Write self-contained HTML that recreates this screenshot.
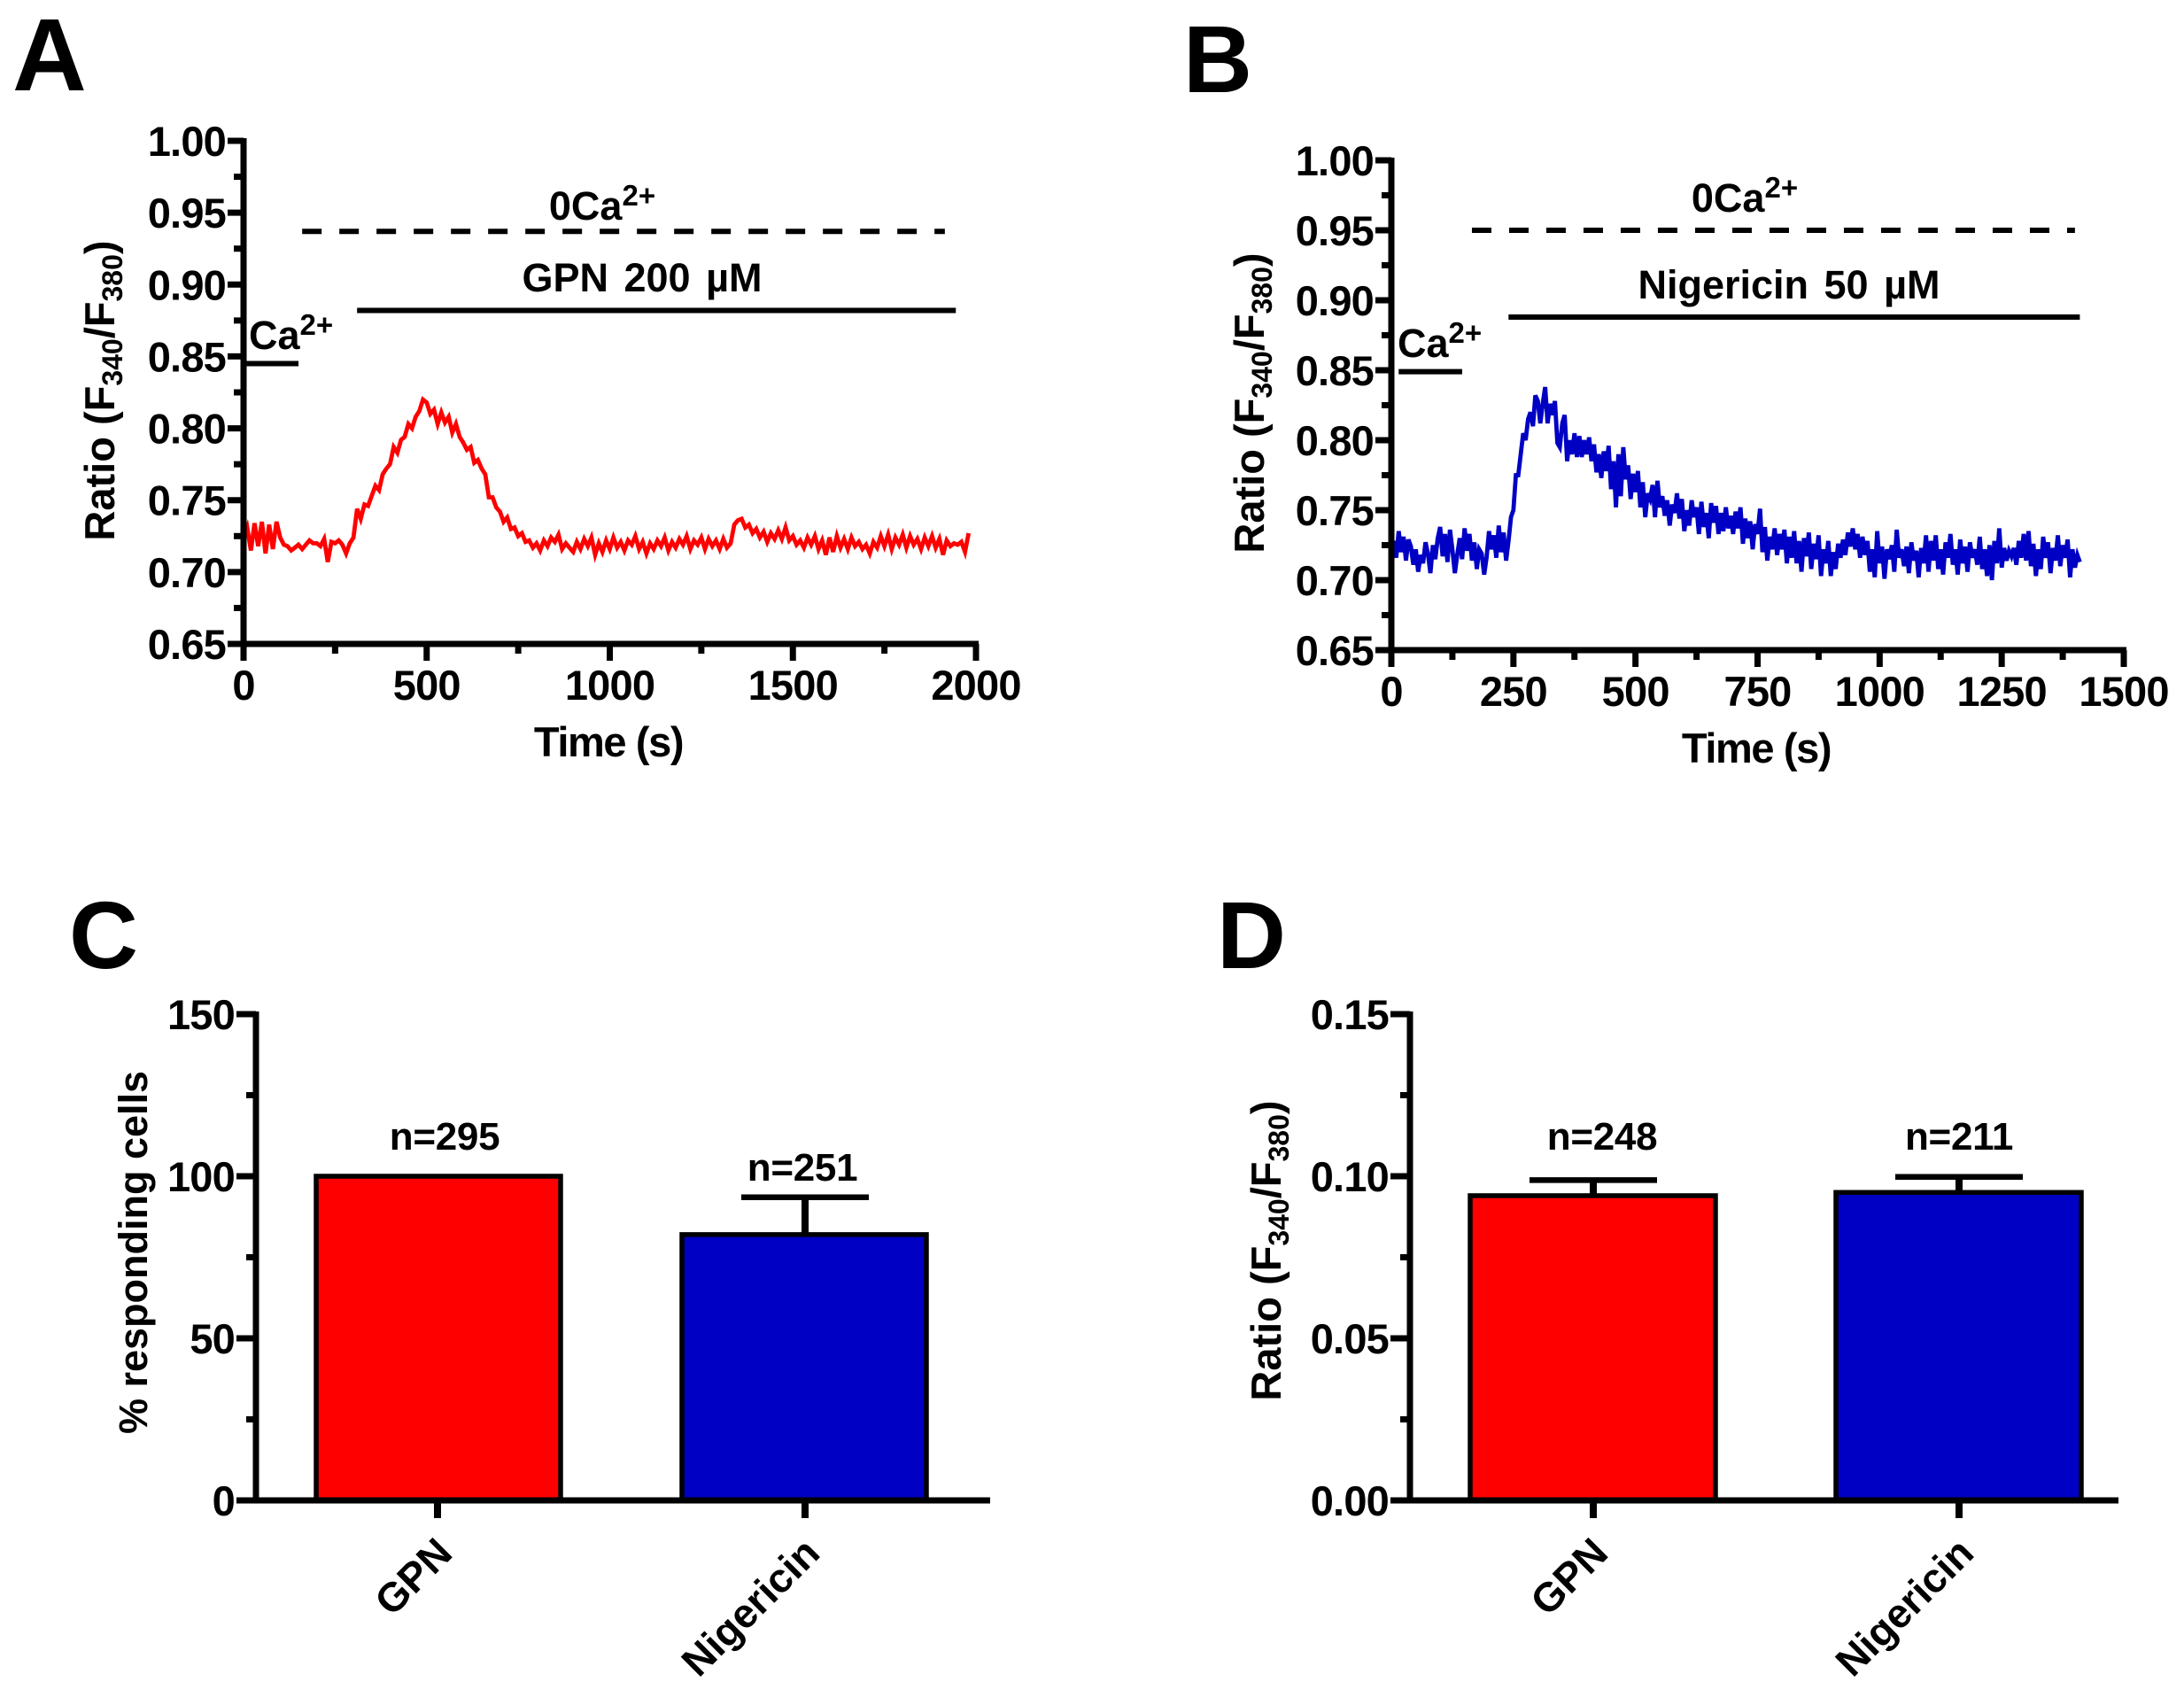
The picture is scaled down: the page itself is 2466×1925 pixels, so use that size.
<!DOCTYPE html>
<html lang="en">
<head>
<meta charset="utf-8">
<title>Calcium ratio responses to GPN and Nigericin</title>
<style>
html,body{margin:0;padding:0;background:#fff;}
svg{display:block;}
text{font-family:"Liberation Sans",Arial,sans-serif;font-weight:bold;fill:#000;}
</style>
</head>
<body>
<svg id="figure" xmlns="http://www.w3.org/2000/svg" width="2466" height="1925" viewBox="0 0 2466 1925">
<rect width="2466" height="1925" fill="#fff"/>
<text x="14" y="102" font-size="116">A</text>
<text x="1336" y="104" font-size="108">B</text>
<text x="78" y="1093" font-size="108">C</text>
<text x="1374" y="1093" font-size="108">D</text>
</svg>
<script>
const aTicksX = [0, 500, 1000, 1500, 2000];
const aMinorX = [250, 750, 1250, 1750];
const bTicksX = [0, 250, 500, 750, 1000, 1250, 1500];
const bMinorX = [125, 375, 625, 875, 1125, 1375];
const ratioTicks = ['0.65', '0.70', '0.75', '0.80', '0.85', '0.90', '0.95', '1.00'];
const ratioMinor = [0.675, 0.725, 0.775, 0.825, 0.875, 0.925, 0.975];
const cTicks = ['0', '50', '100', '150'];
const cMinor = [25, 75, 125];
const dTicks = ['0.00', '0.05', '0.10', '0.15'];
const dMinor = [0.025, 0.075, 0.125];
const categories = ['GPN', 'Nigericin'];
const colors = ['#ff0000', '#0000c4'];
const cValues = [100, 82];
const cErrors = [0, 11.5];
const cCounts = ['n=295', 'n=251'];
const dValues = [0.094, 0.095];
const dErrors = [0.0048, 0.0048];
const dCounts = ['n=248', 'n=211'];

const aStep = 10;
const aTrace = [
.724,.731,.715,.734,.718,.735,.713,.733,.716,.735,
.724,.719,.718,.715,.717,.719,.716,.719,.722,.720,
.720,.718,.723,.707,.721,.720,.722,.719,.713,.720,
.724,.744,.737,.747,.746,.753,.760,.757,.768,.772,
.775,.787,.783,.792,.794,.803,.800,.808,.812,.820,
.818,.810,.813,.803,.811,.804,.808,.797,.803,.794,
.790,.785,.787,.776,.778,.772,.768,.752,.752,.745,
.742,.735,.738,.730,.731,.725,.727,.721,.722,.717,
.720,.715,.722,.718,.724,.721,.726,.716,.720,.717,
.714,.721,.716,.723,.718,.724,.712,.720,.714,.722,
.716,.724,.717,.721,.715,.722,.719,.725,.716,.721,
.713,.720,.716,.722,.718,.724,.715,.721,.717,.723,
.719,.725,.716,.722,.719,.724,.716,.723,.718,.722,
.716,.723,.717,.720,.733,.736,.737,.731,.733,.727,
.730,.724,.728,.721,.727,.723,.729,.723,.731,.722,
.725,.719,.722,.717,.724,.719,.725,.716,.722,.712,
.724,.714,.725,.717,.723,.716,.724,.718,.721,.716,
.719,.713,.721,.717,.725,.718,.726,.716,.724,.719,
.726,.717,.725,.719,.723,.716,.724,.718,.725,.717,
.723,.712,.722,.718,.720,.719,.721,.714,.727
];

const bStep = 5;
const bTrace = [
.722,.728,.716,.735,.720,.731,.714,.729,.724,.711,.722,.706,.718,.712,.727,.719,.705,.725,.715,.730,
.738,.717,.733,.713,.736,.722,.705,.718,.730,.715,.737,.721,.733,.714,.727,.708,.722,.719,.704,.716,
.735,.722,.732,.716,.739,.720,.734,.714,.728,.745,
.750,.775,.775,.790,.805,.800,.815,.820,.810,.832,
.828,.812,.826,.838,.812,.826,.818,.828,.798,.795,.812,.818,.785,.800,.790,.805,.788,.803,.788,.800,
.790,.802,.785,.797,.777,.790,.773,.792,.778,.796,.765,.785,.752,.790,.760,.795,.772,.782,.758,.776,
.763,.778,.752,.770,.745,.762,.758,.768,.745,.771,.752,.760,.746,.757,.739,.754,.748,.762,.744,.758,
.735,.750,.739,.757,.745,.752,.733,.756,.738,.748,.730,.755,.741,.753,.733,.748,.735,.752,.737,.746,
.733,.749,.737,.752,.726,.744,.730,.742,.722,.740,.733,.751,.720,.738,.714,.731,.722,.737,.718,.733,
.722,.736,.712,.731,.716,.735,.712,.728,.706,.730,.717,.734,.708,.726,.715,.732,.703,.722,.712,.728,
.703,.720,.708,.726,.716,.729,.718,.734,.724,.737,.722,.733,.716,.731,.718,.728,.706,.722,.702,.735,
.712,.724,.701,.722,.715,.725,.706,.736,.716,.722,.710,.724,.705,.727,.714,.721,.702,.723,.712,.732,
.706,.728,.714,.732,.708,.722,.704,.727,.716,.733,.711,.722,.704,.729,.712,.724,.706,.727,.716,.722,
.711,.731,.708,.722,.703,.725,.700,.728,.712,.737,.709,.723,.714,.721,.717,.723,.711,.728,.716,.733,
.714,.735,.710,.726,.703,.722,.708,.731,.716,.727,.705,.723,.714,.732,.710,.725,.716,.729,.702,.722,
.709,.718,.713
];

const aLines = {dash:[160,1915,0.937], solid:[310,1945,0.882], ca:[0,150,0.845]};
const bLines = {dash:[165,1400,0.950], solid:[240,1410,0.888], ca:[15,145,0.849]};

const SVGNS = 'http://www.w3.org/2000/svg';
const svg = document.getElementById('figure');

function line(parent, x1, y1, x2, y2, w, name) {
  const el = document.createElementNS(SVGNS, 'line');
  el.setAttribute('x1', x1);
  el.setAttribute('y1', y1);
  el.setAttribute('x2', x2);
  el.setAttribute('y2', y2);
  el.setAttribute('stroke', '#000');
  el.setAttribute('stroke-width', w);
  
  
  parent.appendChild(el);
  return el;
}
function label(parent, x, y, str, size, anchor, name) {
  const el = document.createElementNS(SVGNS, 'text');
  el.setAttribute('x', x);
  el.setAttribute('y', y);
  el.setAttribute('font-size', size);
  el.setAttribute('text-anchor', anchor);
  el.textContent = str;
  
  
  parent.appendChild(el);
  return el;
}
function group(name) {
  const g = document.createElementNS(SVGNS, 'g');
  
  
  svg.appendChild(g);
  return g;
}
function richLabel(parent, x, y, size, anchor, parts, name, rotate) {
  const el = label(parent, x, y, '', size, anchor, name);
  if (rotate) el.setAttribute('transform', 'rotate(-90 ' + x + ' ' + y + ')');
  parts.forEach(function (p) {
    const ts = document.createElementNS(SVGNS, 'tspan');
    ts.textContent = p[0];
    if (p[1]) ts.setAttribute('dy', p[1]);
    if (p[2]) ts.setAttribute('font-size', p[2]);
    el.appendChild(ts);
  });
  return el;
}
function ratioParts(size) {
  const sub = Math.round(size * 0.68);
  const d = Math.round(size * 0.2);
  return [['Ratio (F'], ['340', d, sub], ['/F', -d], ['380', d, sub], [')', -d]];
}
function caParts(prefix, size) {
  const sup = Math.round(size * 0.74);
  const d = Math.round(size * 0.36);
  return [[prefix], ['2+', -d, sup]];
}

function tracePanel(cfg) {
  const g = group(cfg.name);
  const sx = function (v) { return cfg.x0 + (v - cfg.xMin) / (cfg.xMax - cfg.xMin) * (cfg.x1 - cfg.x0); };
  const sy = function (v) { return cfg.y0 + (v - 0.65) / 0.35 * (cfg.y1 - cfg.y0); };

  const pts = cfg.trace.map(function (v, i) { return sx(i * cfg.step).toFixed(1) + ',' + sy(v).toFixed(1); }).join(' ');
  const path = document.createElementNS(SVGNS, 'polyline');
  path.setAttribute('points', pts);
  path.setAttribute('fill', 'none');
  path.setAttribute('stroke', cfg.color);
  path.setAttribute('stroke-width', cfg.traceW);
  path.setAttribute('stroke-linejoin', 'miter');
  
  
  g.appendChild(path);

  line(g, cfg.x0, cfg.y0 + 3, cfg.x0, cfg.y1 - 3, 7, 'y-axis-line');
  line(g, cfg.x0 - 3, cfg.y0, cfg.x1 + 3, cfg.y0, 7, 'x-axis-line');

  cfg.yTicks.forEach(function (t) {
    const y = sy(parseFloat(t));
    line(g, cfg.x0 - 18, y, cfg.x0, y, 7, 'y-tick');
    const l = label(g, cfg.x0 - 20, y + 17, t, 47, 'end', 'y-tick-label');
    l.setAttribute('letter-spacing', '-0.8');
  });
  cfg.yMinor.forEach(function (v) {
    line(g, cfg.x0 - 11, sy(v), cfg.x0, sy(v), 7, 'y-minor-tick');
  });
  cfg.xTicks.forEach(function (t) {
    line(g, sx(t), cfg.y0, sx(t), cfg.y0 + 19, 7, 'x-tick');
    const l = label(g, sx(t), cfg.y0 + 63, String(t), 47, 'middle', 'x-tick-label');
    l.setAttribute('letter-spacing', '-0.8');
  });
  cfg.xMinor.forEach(function (t) {
    line(g, sx(t), cfg.y0, sx(t), cfg.y0 + 11, 7, 'x-minor-tick');
  });

  const tt = label(g, cfg.timeX, cfg.y0 + 127, 'Time (s)', 47, 'middle', 'x-axis-title');
  tt.setAttribute('letter-spacing', '-1.4');
  richLabel(g, cfg.titleX, cfg.titleY, 47, 'middle', ratioParts(47), 'y-axis-title', true);

  const dash = line(g, sx(cfg.lines.dash[0]), sy(cfg.lines.dash[2]), sx(cfg.lines.dash[1]), sy(cfg.lines.dash[2]), 6, 'zero-calcium-dashed-line');
  dash.setAttribute('stroke-dasharray', '22 20');
  line(g, sx(cfg.lines.solid[0]), sy(cfg.lines.solid[2]), sx(cfg.lines.solid[1]), sy(cfg.lines.solid[2]), 6, 'treatment-line');
  line(g, sx(cfg.lines.ca[0]), sy(cfg.lines.ca[2]), sx(cfg.lines.ca[1]), sy(cfg.lines.ca[2]), 6, 'calcium-line');

  richLabel(g, cfg.zeroX, cfg.zeroY, 45, 'middle', caParts('0Ca', 45), 'zero-calcium-label', false);
  const tr = label(g, cfg.treatX, cfg.treatY, cfg.treat, 45, 'middle', 'treatment-label');
  tr.setAttribute('word-spacing', '5');
  richLabel(g, cfg.caX, cfg.caY, 45, 'start', caParts('Ca', 45), 'calcium-label', false);
}

function barPanel(cfg) {
  const g = group(cfg.name);
  const sy = function (v) { return cfg.y0 + v / cfg.yMax * (cfg.y1 - cfg.y0); };

  cfg.values.forEach(function (v, i) {
    const left = cfg.barLeft[i];
    const right = left + cfg.barW;
    if (cfg.errors[i] > 0) {
      const cx = cfg.tickX[i];
      line(g, cx, sy(v), cx, sy(v + cfg.errors[i]), 8, 'error-bar-stem');
      line(g, cx - 72, sy(v + cfg.errors[i]), cx + 72, sy(v + cfg.errors[i]), 6.5, 'error-bar-cap');
    }
    const r = document.createElementNS(SVGNS, 'rect');
    r.setAttribute('x', left);
    r.setAttribute('y', sy(v));
    r.setAttribute('width', right - left);
    r.setAttribute('height', cfg.y0 - sy(v));
    r.setAttribute('fill', cfg.colors[i]);
    r.setAttribute('stroke', '#000');
    r.setAttribute('stroke-width', 5.5);
    
    
    g.appendChild(r);

    const n = label(g, cfg.countX[i], cfg.countY[i], cfg.counts[i], 44, 'middle', 'sample-count-label');
    n.setAttribute('letter-spacing', '-0.3');
    line(g, cfg.tickX[i], cfg.y0, cfg.tickX[i], cfg.y0 + 20, 8, 'x-tick');
    const t = label(g, cfg.tickX[i] + 19, cfg.y0 + 62, categories[i], 46, 'end', 'category-label');
    t.setAttribute('transform', 'rotate(-45 ' + (cfg.tickX[i] + 19) + ' ' + (cfg.y0 + 62) + ')');
  });

  line(g, cfg.x0, cfg.y0 + 3, cfg.x0, cfg.y1 - 3, 7, 'y-axis-line');
  line(g, cfg.x0 - 22, cfg.y0, cfg.x1, cfg.y0, 7, 'x-axis-line');
  cfg.yTicks.forEach(function (t) {
    const y = sy(parseFloat(t));
    line(g, cfg.x0 - 22, y, cfg.x0, y, 7, 'y-tick');
    const l = label(g, cfg.x0 - 24, y + 17, t, 47, 'end', 'y-tick-label');
    l.setAttribute('letter-spacing', '-0.8');
  });
  cfg.yMinor.forEach(function (v) {
    line(g, cfg.x0 - 11, sy(v), cfg.x0, sy(v), 7, 'y-minor-tick');
  });
  if (cfg.titleRatio) {
    richLabel(g, cfg.titleX, cfg.titleY, 47, 'middle', ratioParts(47), 'y-axis-title', true);
  } else {
    richLabel(g, cfg.titleX, cfg.titleY, 45, 'middle', [[cfg.title]], 'y-axis-title', true);
  }
}

tracePanel({name:'panel-a', x0:275, x1:1102, xMin:0, xMax:2000, y0:727, y1:159, trace:aTrace, step:aStep, color:'#ff0000', traceW:4.8,
  yTicks:ratioTicks, yMinor:ratioMinor, xTicks:aTicksX, xMinor:aMinorX, lines:aLines, timeX:687, titleX:129, titleY:441,
  zeroX:680, zeroY:248, treat:'GPN 200 \u00b5M', treatX:725, treatY:329, caX:281, caY:394});
tracePanel({name:'panel-b', x0:1571, x1:2398, xMin:0, xMax:1500, y0:734, y1:181, trace:bTrace, step:bStep, color:'#0000c4', traceW:4.8,
  yTicks:ratioTicks, yMinor:ratioMinor, xTicks:bTicksX, xMinor:bMinorX, lines:bLines, timeX:1983, titleX:1427, titleY:455,
  zeroX:1970, zeroY:239, treat:'Nigericin 50 \u00b5M', treatX:2020, treatY:337, caX:1578, caY:403});
barPanel({name:'panel-c', x0:289, x1:1118, y0:1694, y1:1145, yMax:150, values:cValues, errors:cErrors, colors:colors, counts:cCounts,
  barLeft:[357,770], barW:276, tickX:[494,909], countX:[502,906], countY:[1298,1333], yTicks:cTicks, yMinor:cMinor,
  title:'% responding cells', titleX:166, titleY:1414});
barPanel({name:'panel-d', x0:1592, x1:2392, y0:1694, y1:1145, yMax:0.15, values:dValues, errors:dErrors, colors:colors, counts:dCounts,
  barLeft:[1660,2073], barW:277, tickX:[1799,2212], countX:[1809,2212], countY:[1298,1298], yTicks:dTicks, yMinor:dMinor,
  titleRatio:true, titleX:1446, titleY:1412});
</script>
</body>
</html>
